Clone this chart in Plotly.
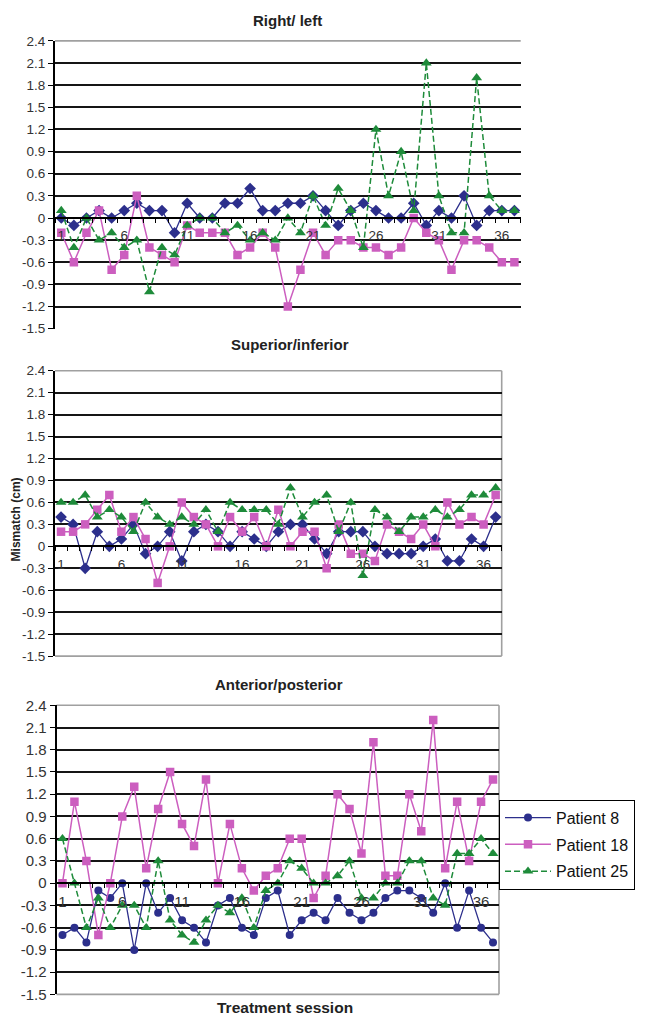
import plotly.graph_objects as go

# ---------------- data ----------------
sessions = list(range(1, 38))
patients = ["Patient 8", "Patient 18", "Patient 25"]

rl_p8 = [0, -0.1, 0, 0.1, 0, 0.1, 0.2, 0.1, 0.1, -0.2,
         0.2, 0, 0, 0.2, 0.2, 0.4, 0.1, 0.1, 0.2, 0.2,
         0.3, 0.1, -0.1, 0.1, 0.2, 0.1, 0, 0, 0.2, -0.1,
         0.1, 0, 0.3, -0.1, 0.1, 0.1, 0.1]
rl_p18 = [-0.2, -0.6, -0.2, 0.1, -0.7, -0.5, 0.3, -0.4, -0.5, -0.6,
          -0.1, -0.2, -0.2, -0.2, -0.5, -0.4, -0.2, -0.4, -1.2, -0.7,
          -0.2, -0.5, -0.3, -0.3, -0.4, -0.4, -0.5, -0.4, 0, -0.2,
          -0.3, -0.7, -0.3, -0.3, -0.4, -0.6, -0.6]
rl_p25 = [0.1, -0.4, 0, -0.3, -0.2, -0.4, -0.3, -1.0, -0.4, -0.5,
          -0.1, 0, 0, -0.2, -0.1, -0.3, -0.2, -0.3, 0, -0.2,
          0.3, -0.1, 0.4, 0.1, -0.4, 1.2, 0.3, 0.9, 0.1, 2.1,
          0.3, -0.2, -0.2, 1.9, 0.3, 0.1, 0.1]

si_p8 = [0.4, 0.3, -0.3, 0.2, 0, 0.1, 0.3, -0.1, 0, 0.2,
         -0.2, 0.2, 0.3, 0.2, 0, 0.2, 0.1, 0, 0.2, 0.3,
         0.3, 0.1, -0.1, 0.2, 0.2, 0.2, 0, -0.1, -0.1, -0.1,
         0, 0.1, -0.2, -0.2, 0.1, 0, 0.4]
si_p18 = [0.2, 0.2, 0.3, 0.5, 0.7, 0.2, 0.4, 0.1, -0.5, 0,
          0.6, 0.4, 0.3, 0, 0.4, 0.2, 0.4, 0, 0.5, 0,
          0.2, 0.2, -0.3, 0.3, -0.1, -0.1, -0.2, 0.3, 0.2, 0.1,
          0.3, 0, 0.6, 0.3, 0.4, 0.3, 0.7]
si_p25 = [0.6, 0.6, 0.7, 0.4, 0.5, 0.4, 0.2, 0.6, 0.4, 0.3,
          0.4, 0.3, 0.5, 0.2, 0.6, 0.5, 0.5, 0.5, 0.3, 0.8,
          0.4, 0.6, 0.7, 0.2, 0.6, -0.4, 0.5, 0.4, 0.2, 0.4,
          0.4, 0.5, 0.4, 0.5, 0.7, 0.7, 0.8]

ap_p8 = [-0.7, -0.6, -0.8, -0.1, -0.2, 0, -0.9, 0, -0.4, -0.2,
         -0.5, -0.6, -0.8, -0.3, -0.2, -0.6, -0.7, -0.2, -0.1, -0.7,
         -0.5, -0.4, -0.5, -0.2, -0.4, -0.5, -0.4, -0.2, -0.1, -0.1,
         -0.2, -0.4, 0, -0.6, -0.1, -0.6, -0.8]
ap_p18 = [0, 1.1, 0.3, -0.7, 0, 0.9, 1.3, 0.2, 1.0, 1.5,
          0.8, 0.5, 1.4, 0, 0.8, 0.2, -0.1, 0.1, 0.2, 0.6,
          0.6, -0.2, 0.1, 1.2, 1.0, 0.4, 1.9, 0.1, 0.1, 1.2,
          0.7, 2.2, 0.2, 1.1, 0.3, 1.1, 1.4]
ap_p25 = [0.6, 0, -0.6, -0.2, -0.6, -0.3, -0.3, -0.6, 0.3, -0.5,
          -0.7, -0.8, -0.5, -0.3, -0.4, -0.2, -0.6, -0.1, 0, 0.3,
          0.2, 0, 0, 0.1, 0.3, -0.2, -0.2, 0, 0, 0.3,
          0.3, -0.2, -0.3, 0.4, 0.4, 0.6, 0.4]

panel_titles = ["Right/ left", "Superior/inferior", "Anterior/posterior"]
x_tick_vals = [1, 6, 11, 16, 21, 26, 31, 36]
y_tick_vals = [-1.5, -1.2, -0.9, -0.6, -0.3, 0, 0.3, 0.6, 0.9, 1.2, 1.5, 1.8, 2.1, 2.4]
y_tick_text = ["-1.5", "-1.2", "-0.9", "-0.6", "-0.3", "0", "0.3", "0.6", "0.9",
               "1.2", "1.5", "1.8", "2.1", "2.4"]
y_range = [-1.5, 2.4]

# ---------------- styling / layout ----------------
OFF = 8                          # browser body margin
W, H = 647 - 2 * OFF, 1031 - 2 * OFF   # page fits the window exactly
FONT = "Liberation Sans, Arial, sans-serif"
NAVY, MAGENTA, GREEN = "#2C2F8C", "#CC5EBF", "#1E8B3A"


def px(x):
    return (x - OFF) / W


def py(y):
    return 1 - (y - OFF) / H


# screen-pixel boxes of each plot area (left, right, top, bottom)
boxes = [(55, 520.7, 32.3, 325.0),
         (55, 501.7, 367.7, 658.0),
         (56.5, 499.0, 708.0, 1002.0)]
tick_font_sizes = [13.5, 13.5, 15]
title_pos = [(287, 12), (290, 341), (279, 687)]
borders = [("top",), ("top", "right", "bottom"), ("top", "right", "bottom")]

data_sets = [(rl_p8, rl_p18, rl_p25), (si_p8, si_p18, si_p25), (ap_p8, ap_p18, ap_p25)]

fig = go.Figure()
layout = dict(width=W, height=H, margin=dict(l=0, r=0, t=0, b=0),
              paper_bgcolor="white", plot_bgcolor="white",
              font=dict(family=FONT, color="#333333"), showlegend=True)
annotations = []
shapes = []

for k in range(3):
    left, right, top, bottom = boxes[k]
    xd = [px(left), px(right)]
    yd = [py(bottom), py(top)]
    zero_frac = (0 - y_range[0]) / (y_range[1] - y_range[0])
    zero_pos = yd[0] + zero_frac * (yd[1] - yd[0])
    n = "" if k == 0 else str(k + 1)
    xa, ya, yg = "xaxis" + n, "yaxis" + n, "yaxis" + str(k + 4)
    xr, yr = "x" + n, "y" + n
    fs = tick_font_sizes[k]

    layout[xa] = dict(domain=xd, anchor="free", position=zero_pos, range=[0.5, 37.5],
                      tickmode="array", tickvals=x_tick_vals,
                      ticktext=[str(v) for v in x_tick_vals],
                      ticks="", showgrid=False, zeroline=False,
                      showline=True, linecolor="black", linewidth=2,
                      tickfont=dict(size=fs, color="#333333", family=FONT),
                      ticklabelstandoff=5,
                      minor=dict(ticks="outside", ticklen=4, tickwidth=1, tickcolor="black",
                                 tick0=0.5, dtick=1, showgrid=False))
    layout[ya] = dict(domain=yd, anchor=xr, range=y_range, tickmode="array",
                      tickvals=y_tick_vals, ticktext=y_tick_text, showgrid=False,
                      zeroline=False, showline=True, linecolor="black", linewidth=2,
                      ticks="outside", ticklen=5, tickcolor="black", tickwidth=1,
                      tickfont=dict(size=fs, color="#333333", family=FONT))
    layout[yg] = dict(overlaying=yr, anchor=xr, range=y_range, tickmode="array",
                      tickvals=y_tick_vals[1:-1], showgrid=True, gridcolor="#151515",
                      gridwidth=1.8, showticklabels=False, ticks="", zeroline=False,
                      showline=False)
    fig.add_trace(go.Scatter(x=[None], y=[None], xaxis=xr, yaxis="y" + str(k + 4),
                             showlegend=False, hoverinfo="skip"))

    for side in borders[k]:
        if side == "top":
            c = dict(x0=0, x1=1, y0=1, y1=1)
        elif side == "right":
            c = dict(x0=1, x1=1, y0=0, y1=1)
        else:
            c = dict(x0=0, x1=1, y0=0, y1=0)
        shapes.append(dict(type="line", xref=xr + " domain", yref=yr + " domain",
                           line=dict(color="#A0A0A0", width=1.6), layer="below", **c))

    p8, p18, p25 = data_sets[k]
    show = (k == 2)
    fig.add_trace(go.Scatter(x=sessions, y=p8, name=patients[0], xaxis=xr, yaxis=yr,
                             mode="lines+markers", legendgroup="p8", showlegend=show,
                             line=dict(color=NAVY, width=1.3),
                             marker=dict(symbol="circle" if k == 2 else "diamond",
                                         size=8 if k == 2 else 9, color=NAVY)))
    fig.add_trace(go.Scatter(x=sessions, y=p18, name=patients[1], xaxis=xr, yaxis=yr,
                             mode="lines+markers", legendgroup="p18", showlegend=show,
                             line=dict(color=MAGENTA, width=1.5),
                             marker=dict(symbol="square", size=8.5, color=MAGENTA)))
    fig.add_trace(go.Scatter(x=sessions, y=p25, name=patients[2], xaxis=xr, yaxis=yr,
                             mode="lines+markers", legendgroup="p25", showlegend=show,
                             line=dict(color=GREEN, width=1.5, dash="6px,3px"),
                             marker=dict(symbol="triangle-up", size=9.5, color=GREEN)))

    tx, ty = title_pos[k]
    annotations.append(dict(text="<b>%s</b>" % panel_titles[k], x=px(tx), y=py(ty),
                            xref="paper", yref="paper", showarrow=False,
                            xanchor="center", yanchor="middle",
                            font=dict(size=15, color="#222222", family=FONT)))

annotations.append(dict(text="<b>Treatment session</b>", x=px(285), y=py(1015),
                        xref="paper", yref="paper", showarrow=False,
                        xanchor="center", yanchor="middle",
                        font=dict(size=15.5, color="#222222", family=FONT)))
annotations.append(dict(text="<b>Mismatch (cm)</b>", x=px(16), y=py(519),
                        xref="paper", yref="paper", showarrow=False, textangle=-90,
                        xanchor="center", yanchor="middle",
                        font=dict(size=12, color="#222222", family=FONT)))

layout["annotations"] = annotations
layout["shapes"] = shapes
layout["legend"] = dict(x=px(499), y=py(804), xanchor="left", yanchor="top",
                        bordercolor="black", borderwidth=1, bgcolor="white",
                        font=dict(size=16, color="#111111", family=FONT),
                        tracegroupgap=3, itemwidth=46)
fig.update_layout(**layout)
fig.write_html("out.html")
